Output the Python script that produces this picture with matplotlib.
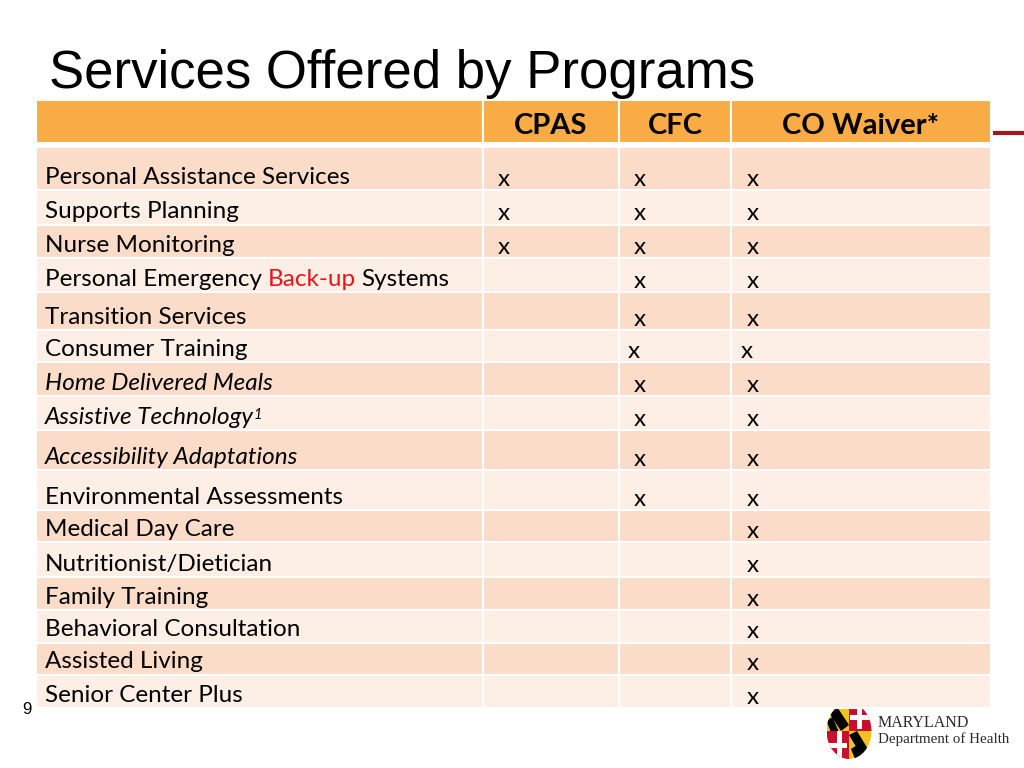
import matplotlib.pyplot as plt
from matplotlib.patches import Rectangle, Ellipse, Polygon

# ---- data ----
title = "Services Offered by Programs"
programs = ["CPAS", "CFC", "CO Waiver*"]
services = [
    "Personal Assistance Services",
    "Supports Planning",
    "Nurse Monitoring",
    "Personal Emergency Back-up Systems",
    "Transition Services",
    "Consumer Training",
    "Home Delivered Meals",
    "Assistive Technology",
    "Accessibility Adaptations",
    "Environmental Assessments",
    "Medical Day Care",
    "Nutritionist/Dietician",
    "Family Training",
    "Behavioral Consultation",
    "Assisted Living",
    "Senior Center Plus",
]
cpas = [1, 1, 1, 0, 0, 0, 0, 0, 0, 0, 0, 0, 0, 0, 0, 0]
cfc = [1, 1, 1, 1, 1, 1, 1, 1, 1, 1, 0, 0, 0, 0, 0, 0]
co_waiver = [1, 1, 1, 1, 1, 1, 1, 1, 1, 1, 1, 1, 1, 1, 1, 1]
italic_services = ["Home Delivered Meals", "Assistive Technology", "Accessibility Adaptations"]
red_words = {"Personal Emergency Back-up Systems": "Back-up"}
footnotes = {"Assistive Technology": "1"}
page_number = "9"

# ---- layout / style (pixels) ----
col_edges = [36, 483, 619, 731, 991]
header_top, header_bottom = 100, 143
first_top = 147
row_bottoms = [190, 225, 258, 292, 330, 362, 396, 430, 470, 510, 542, 577, 610, 643, 675, 708]
mark_x = [498, 634, 747]
mark_shift = {"Consumer Training": -6}
ORANGE = "#F9AC46"
DARK_ROW = "#FBDCC9"
LIGHT_ROW = "#FDEEE6"
BODY_FONT = "Lato"
BODY_SIZE = 17.5

fig = plt.figure(figsize=(10.24, 7.68), dpi=100)
ax = fig.add_axes([0, 0, 1, 1])
ax.set_xlim(0, 1024)
ax.set_ylim(768, 0)
ax.axis("off")

ax.text(49, 88, title, fontsize=38, family="Liberation Sans", va="baseline", ha="left")

# header
for i in range(len(col_edges) - 1):
    ax.add_patch(Rectangle((col_edges[i], header_top), col_edges[i + 1] - col_edges[i],
                           header_bottom - header_top, facecolor=ORANGE,
                           edgecolor="white", lw=1.5, zorder=2))
for i, p in enumerate(programs):
    cx = (col_edges[i + 1] + col_edges[i + 2]) / 2
    ax.text(cx, 126, p, fontsize=21, fontweight="bold", family=BODY_FONT,
            ha="center", va="center", zorder=3)

ax.plot([993, 1024], [133, 133], color="#A3191F", lw=3, solid_capstyle="butt")

# body rows
marks = list(zip(cpas, cfc, co_waiver))
tops = [first_top] + row_bottoms[:-1]
for r, name in enumerate(services):
    top, bottom = tops[r], row_bottoms[r]
    color = DARK_ROW if r % 2 == 0 else LIGHT_ROW
    for i in range(len(col_edges) - 1):
        ax.add_patch(Rectangle((col_edges[i], top), col_edges[i + 1] - col_edges[i],
                               bottom - top, facecolor=color, edgecolor="white",
                               lw=1.5, zorder=2))
    ty = bottom - 13
    style = "italic" if name in italic_services else "normal"
    if name in red_words:
        word = red_words[name]
        before, after = name.split(word)
        t1 = ax.text(45, ty, before.strip(), fontsize=BODY_SIZE, family=BODY_FONT,
                     va="center", ha="left", zorder=3)
        t2 = ax.annotate(word, xy=(1, 0), xycoords=t1, xytext=(4, 0),
                         textcoords="offset points", fontsize=BODY_SIZE,
                         family=BODY_FONT, color="#E8141B", va="bottom", ha="left", zorder=3)
        ax.annotate(after.strip(), xy=(1, 0), xycoords=t2, xytext=(4, 0),
                    textcoords="offset points", fontsize=BODY_SIZE,
                    family=BODY_FONT, va="bottom", ha="left", zorder=3)
    else:
        t = ax.text(45, ty, name, fontsize=BODY_SIZE, family=BODY_FONT, style=style,
                    va="center", ha="left", zorder=3)
        if name in footnotes:
            ax.annotate(footnotes[name], xy=(1, 1), xycoords=t, xytext=(-0.5, -1),
                        textcoords="offset points", fontsize=10.5, family=BODY_FONT,
                        style="italic", va="top", ha="left", zorder=3)
    for j, m in enumerate(marks[r]):
        if m:
            ax.text(mark_x[j] + mark_shift.get(name, 0), ty + 2, "x", fontsize=BODY_SIZE,
                    family=BODY_FONT, va="center", ha="left", zorder=3)

ax.text(27, 709, page_number, fontsize=12, family="Liberation Sans", va="center", ha="center")

# logo (simplified Maryland shield)
cx, cy, w, h = 849, 731, 45, 56
clip = Ellipse((cx, cy), w, h, transform=ax.transData)
L, R, T, B = cx - w / 2, cx + w / 2, cy - h / 2, cy + h / 2
pieces = [
    Rectangle((L, T), w / 2, h / 2, facecolor="#F4C21C"),          # TL calvert
    Rectangle((cx, T), w / 2, h / 2, facecolor="#C8102E"),         # TR crossland
    Rectangle((L, cy), w / 2, h / 2, facecolor="#C8102E"),         # BL crossland
    Rectangle((cx, cy), w / 2, h / 2, facecolor="#F4C21C"),        # BR calvert
    Polygon([(L, T + 6), (L + 8, T), (cx, cy - 6), (cx - 8, cy)], facecolor="black"),
    Polygon([(L, cy - 10), (L + 6, cy - 14), (L + 12, cy), (L + 4, cy)], facecolor="black"),
    Polygon([(cx, cy + 4), (cx + 8, cy), (R, B - 4), (R - 8, B)], facecolor="black"),
    Polygon([(cx + 2, B - 10), (cx + 8, B - 14), (cx + 14, B), (cx + 6, B)], facecolor="black"),
    Rectangle((cx + 8, T), 5, h / 2 - 2, facecolor="white"),
    Rectangle((cx + 1, cy - 16), w / 2, 5, facecolor="white"),
    Rectangle((L, cy + 12), w / 2 - 2, 5, facecolor="white"),
    Rectangle((cx - 12, cy), 5, h / 2, facecolor="white"),
]
for p in pieces:
    p.set_zorder(1)
    ax.add_patch(p)
    p.set_clip_path(clip)
ax.text(878, 727, "MARYLAND", fontsize=11.5, family="Liberation Serif",
        color="#2B2B2B", va="baseline", ha="left")
ax.text(878, 743, "Department of Health", fontsize=10.8, family="Liberation Serif",
        color="#2B2B2B", va="baseline", ha="left")

fig.savefig("out.png", dpi=100)
